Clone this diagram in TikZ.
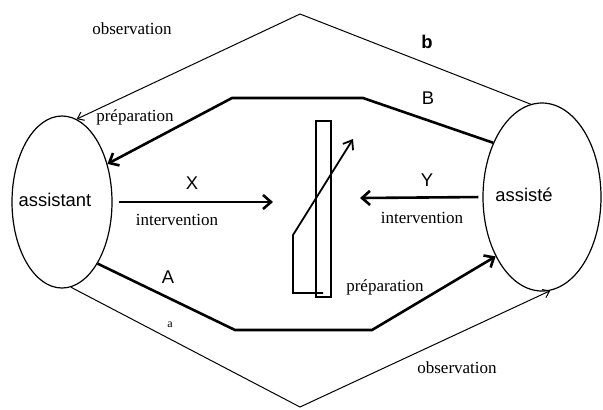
\documentclass[tikz,border=0pt]{standalone}
\usepackage{fontspec}
\setmainfont{Liberation Serif}
\setsansfont{Liberation Sans}
\usetikzlibrary{positioning, shapes.geometric, arrows.meta}

\begin{document}
\begin{tikzpicture}[x=0.5pt, y=-0.5pt,
		pole/.style={draw, ellipse, inner sep=0pt, line width=0.6pt},
		lab/.style={font=\fontsize{8.5}{10}\selectfont},
		lettre/.style={font=\sffamily\fontsize{9.2}{10}\selectfont},
		fort/.style={line width=1.3pt, -{Straight Barb[length=4pt, width=7pt]}},
		fin/.style={line width=0.5pt, -{Straight Barb[length=3pt, width=4.5pt]}}]
	\useasboundingbox (0,0) rectangle (603,409);
	\node[pole, minimum width=50pt, minimum height=86pt] (assistant) at (62,202) {};
	\node[pole, minimum width=59pt, minimum height=94pt] (assiste) at (542,197) {};
	\node[lettre] (tassistant) at (55,200) {assistant};
	\node[lettre] (tassiste) at (524,195) {assisté};
	\node[shape=coordinate] (haut) at (300,14) {};
	\node[shape=coordinate] (bas) at (300,407) {};
	\node[shape=coordinate] (cibleX) at (273,202) {};
	\node[shape=coordinate] (cibleY) at (360,198) {};
	\node[draw, line width=0.7pt, inner sep=0pt, minimum width=7.5pt, minimum height=88pt] (regle) at (323.5,209) {};
	\begin{scope}
		\draw[fin] (assiste.97) -- (haut) -- (assistant.80);
		\draw[fin] (assistant.-84) -- (bas) -- (assiste.-85);
		\draw[fort] (assiste.132) -- (363,98) -- (232,98) -- (assistant.40);
		\draw[fort] (assistant.-60) -- (235,330) -- (372,330) -- (assiste.232);
		\draw[fort, shorten <=3pt] (assistant.east) -- (cibleX);
		\draw[fort, shorten <=2pt] (assiste.west) -- (cibleY);
		\draw[line width=0.9pt, -{Straight Barb[length=4pt, width=6pt]}] (323,293) -- (293,293) -- (293,235) -- (353,139);
	\end{scope}
	\node[lab] (obshaut) at (132,29) {observation};
	\node[lettre, font=\sffamily\bfseries\fontsize{9.2}{10}\selectfont] (lb) at (427,42) {b};
	\node[lettre] (lB) at (428,98) {B};
	\node[lab] (prephaut) at (135,117) {préparation};
	\node[lettre] (lX) at (192,183) {X};
	\node[lab] (intX) at (177,220) {intervention};
	\node[lettre] (lY) at (427,180) {Y};
	\node[lab] (intY) at (422,218) {intervention};
	\node[lettre] (lA) at (168,277) {A};
	\node[lab, font=\fontsize{6}{7}\selectfont] (la) at (170,325) {a};
	\node[lab] (prepbas) at (385,287) {préparation};
	\node[lab] (obsbas) at (457,368) {observation};
\end{tikzpicture}
\end{document}
